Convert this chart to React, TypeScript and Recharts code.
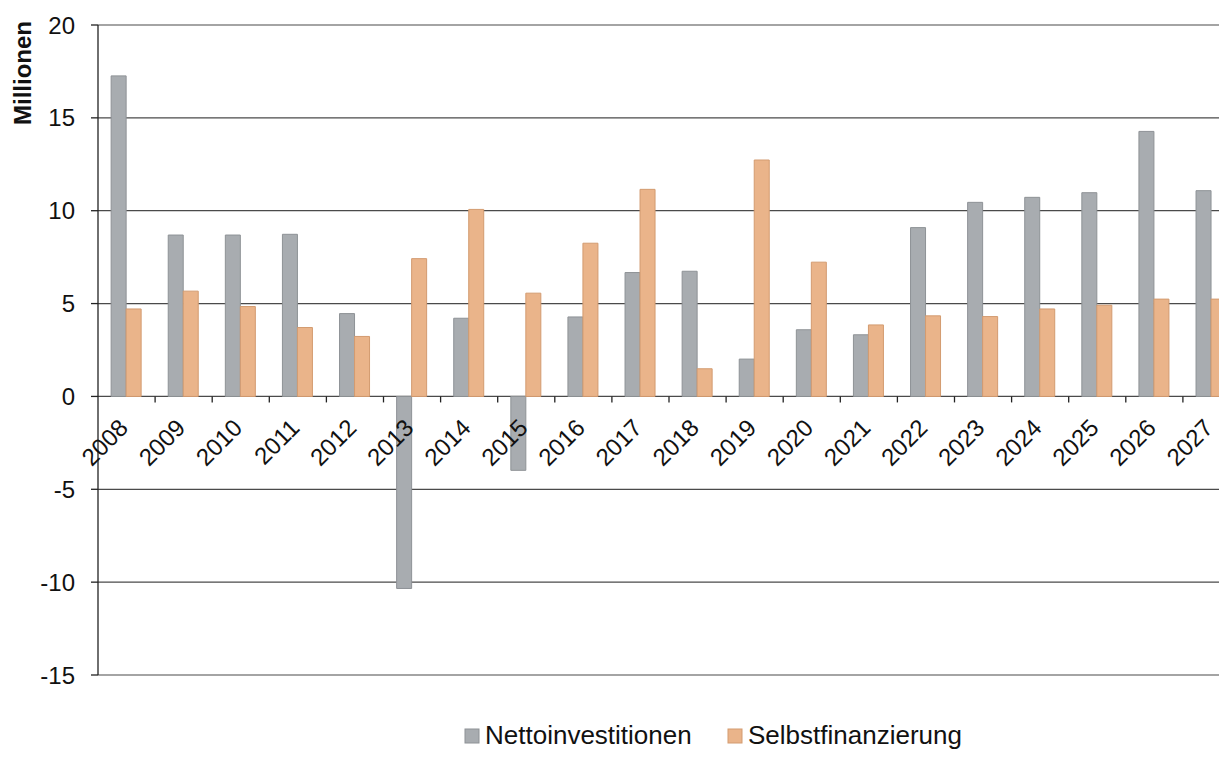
import React, { useEffect } from 'react';
import { BarChart, Bar, XAxis, YAxis, CartesianGrid } from 'recharts';

const YEARS = ['2008', '2009', '2010', '2011', '2012', '2013', '2014', '2015', '2016', '2017', '2018', '2019', '2020', '2021', '2022', '2023', '2024', '2025', '2026', '2027'];
const NETTO = [17.26, 8.69, 8.69, 8.73, 4.46, -10.34, 4.21, -3.98, 4.28, 6.67, 6.74, 2.01, 3.59, 3.32, 9.09, 10.45, 10.72, 10.97, 14.27, 11.08];
const SELBST = [4.71, 5.67, 4.84, 3.71, 3.23, 7.42, 10.07, 5.56, 8.25, 11.15, 1.49, 12.73, 7.23, 3.85, 4.34, 4.3, 4.71, 4.91, 5.24, 5.24];
const Y_TICKS = [-15, -10, -5, 0, 5, 10, 15, 20];
const SERIES_NAMES = ['Nettoinvestitionen', 'Selbstfinanzierung'];

const data = YEARS.map((y, i) => ({ year: y, netto: NETTO[i], selbst: SELBST[i] }));

const FONT = '"Liberation Sans", Arial, Helvetica, sans-serif';
const CHART_W = 1240;
const CHART_H = 742;
const M = { top: 17, right: 8, bottom: 74, left: 0 };
const Y_AXIS_W = 90;
const X_AXIS_H = 1;
const PLOT_W = CHART_W - M.left - M.right - Y_AXIS_W;
const PLOT_H = CHART_H - M.top - M.bottom - X_AXIS_H;
const Y_MIN = -15;
const Y_MAX = 20;
const ZERO_Y = M.top + (PLOT_H * Y_MAX) / (Y_MAX - Y_MIN);
const BAND = PLOT_W / YEARS.length;

const GRAY = '#a8acb0';
const GRAY_EDGE = '#8e9296';
const ORANGE = '#eab48a';
const ORANGE_EDGE = '#d39b70';

function XTick(props: any) {
  const { x, payload } = props;
  const tx = x + BAND / 2;
  const lx = x + 3;
  const ly = ZERO_Y + 33;
  return (
    <g>
      <line x1={tx} y1={ZERO_Y} x2={tx} y2={ZERO_Y + 6} stroke="#222" strokeWidth={1.3} />
      <text
        x={lx}
        y={ly}
        textAnchor="end"
        transform={`rotate(-45, ${lx}, ${ly})`}
        fontSize={24}
        fontFamily={FONT}
        fill="#111"
      >
        {payload.value}
      </text>
    </g>
  );
}

function YLabel(props: any) {
  const vb = props.viewBox || { x: 0, y: M.top };
  const cx = vb.x + 14.5;
  const cy = M.top + 48;
  return (
    <text
      x={cx}
      y={cy}
      transform={`rotate(-90, ${cx}, ${cy})`}
      textAnchor="middle"
      dominantBaseline="central"
      fontSize={24}
      fontWeight="bold"
      fontFamily={FONT}
      fill="#111"
    >
      Millionen
    </text>
  );
}

export default function App() {
  useEffect(() => {
    document.body.style.overflow = 'hidden';
  }, []);
  return (
    <div style={{ position: 'relative', width: 1219, height: CHART_H, overflow: 'hidden', background: '#fff' }}>
      <BarChart
        width={CHART_W}
        height={CHART_H}
        data={data}
        margin={M}
        barCategoryGap="23%"
        barGap={0}
      >
        <CartesianGrid horizontal vertical={false} stroke="#4a4a4a" strokeWidth={1.2} />
        <XAxis
          dataKey="year"
          height={X_AXIS_H}
          axisLine={false}
          tickLine={false}
          interval={0}
          tick={<XTick />}
        />
        <YAxis
          width={Y_AXIS_W}
          domain={[Y_MIN, Y_MAX]}
          ticks={Y_TICKS}
          interval={0}
          allowDataOverflow
          axisLine={{ stroke: '#222', strokeWidth: 1.3 }}
          tickLine={{ stroke: '#222', strokeWidth: 1.3 }}
          tickSize={7}
          tickMargin={16}
          tick={{ fontSize: 24, fontFamily: FONT, fill: '#111' }}
          label={<YLabel />}
        />
        <Bar dataKey="netto" name={SERIES_NAMES[0]} fill={GRAY} stroke={GRAY_EDGE} strokeWidth={1} isAnimationActive={false} />
        <Bar dataKey="selbst" name={SERIES_NAMES[1]} fill={ORANGE} stroke={ORANGE_EDGE} strokeWidth={1} isAnimationActive={false} />
      </BarChart>
      <svg width={1219} height={CHART_H} style={{ position: 'absolute', left: 0, top: 0, pointerEvents: 'none' }}>
        <rect x={457} y={721} width={14} height={14} fill={GRAY} stroke={GRAY_EDGE} strokeWidth={1} />
        <text x={477} y={736} fontSize={26} fontFamily={FONT} fill="#111">{SERIES_NAMES[0]}</text>
        <rect x={720} y={721} width={14} height={14} fill={ORANGE} stroke={ORANGE_EDGE} strokeWidth={1} />
        <text x={740} y={736} fontSize={26} fontFamily={FONT} fill="#111">{SERIES_NAMES[1]}</text>
      </svg>
    </div>
  );
}
